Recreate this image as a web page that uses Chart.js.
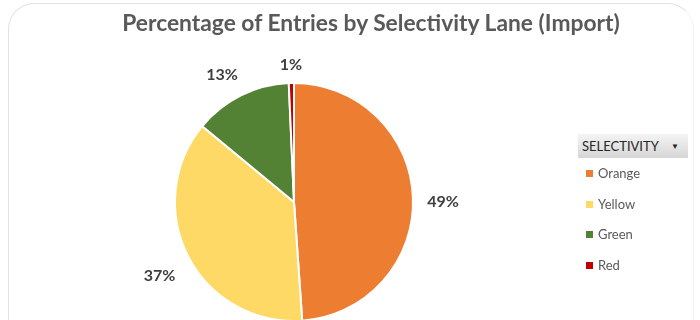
<!DOCTYPE html>
<html>
<head>
<meta charset="utf-8">
<script src="https://cdn.jsdelivr.net/npm/chart.js@4"></script>
<style>
  html, body { margin: 0; padding: 0; background: #fff; }
  #wrap { position: relative; width: 700px; height: 320px; overflow: hidden; font-family: Lato, "Liberation Sans", sans-serif; }
  #frame { position: absolute; left: 8px; top: 3px; width: 684px; height: 340px; border: 1px solid #e2e2e2; border-right-color: #f4f4f4; border-radius: 26px; }
  #chartBox { position: absolute; left: 0; top: 0; width: 700px; height: 340px; }
  #title { position: absolute; left: 0; width: 742px; top: 8px; text-align: center; font-size: 22.8px; font-weight: bold; color: #595959; }
  #legend { position: absolute; left: 578px; top: 134px; font-size: 13px; }
  #legend .head { width: 110px; height: 24px; line-height: 24px; box-sizing: border-box; padding-left: 4px; color: #262626; background: linear-gradient(#f4f4f4, #d6d6d6); position: relative; }
  #legend .head span { position: absolute; right: 9px; top: 0; font-size: 8px; }
  #legend .item { height: 30.5px; line-height: 30.5px; color: #595959; padding-left: 8px; }
  #legend .item i { display: inline-block; width: 7px; height: 7px; margin-right: 5px; vertical-align: 1px; }
</style>
</head>
<body>
<div id="wrap">
  <div id="frame"></div>
  <div id="chartBox"><canvas id="selectivityChart" width="700" height="340"></canvas></div>
  <div id="title">Percentage of Entries by Selectivity Lane (Import)</div>
  <div id="legend"><div class="head">SELECTIVITY<span>&#9660;</span></div></div>
</div>
<script>
var lanes = ['Orange', 'Yellow', 'Green', 'Red'];
var entryShare = [48.9, 37.1, 13.3, 0.7];
var laneColors = ['#ED7D31', '#FFD966', '#548235', '#C00000'];

// legend list under the filter header
var legendEl = document.getElementById('legend');
lanes.forEach(function (name, i) {
    var row = document.createElement('div');
    row.className = 'item';
    row.innerHTML = '<i style="background:' + laneColors[i] + '"></i>' + name;
    legendEl.appendChild(row);
});

// percentage labels just outside each slice
var outsideLabels = {
    id: 'outsideLabels',
    afterDatasetsDraw: function (chart) {
        var ctx = chart.ctx;
        var meta = chart.getDatasetMeta(0);
        var data = chart.data.datasets[0].data;
        var total = data.reduce(function (a, b) { return a + b; }, 0);
        ctx.save();
        ctx.font = 'bold 16px Lato, "Liberation Sans", sans-serif';
        ctx.fillStyle = '#404040';
        ctx.textAlign = 'center';
        ctx.textBaseline = 'middle';
        meta.data.forEach(function (arc, i) {
            var p = arc.getProps(['x', 'y', 'startAngle', 'endAngle', 'outerRadius'], true);
            var mid = (p.startAngle + p.endAngle) / 2;
            var text = Math.round(data[i] / total * 100) + '%';
            var w = ctx.measureText(text).width;
            var off = 14 + Math.abs(Math.cos(mid)) * w / 2 + Math.abs(Math.sin(mid)) * 9;
            var r = p.outerRadius + off;
            ctx.fillText(text, p.x + Math.cos(mid) * r - (i === 2 ? 6 : 0), p.y + Math.sin(mid) * r + 5);
        });
        ctx.restore();
    }
};

var selectivity = document.getElementById('selectivityChart').getContext('2d');
new Chart(selectivity, {
    type: 'pie',
    data: {
        labels: lanes,
        datasets: [{
            data: entryShare,
            backgroundColor: laneColors,
            borderColor: '#ffffff',
            borderWidth: 2
        }]
    },
    options: {
        events: [],
        responsive: false,
        animation: false,
        layout: {
            padding: { left: 174, right: 286, top: 82, bottom: 18 }
        },
        plugins: {
            legend: { display: false },
            tooltip: { enabled: false }
        }
    },
    plugins: [outsideLabels]
});
</script>
</body>
</html>
